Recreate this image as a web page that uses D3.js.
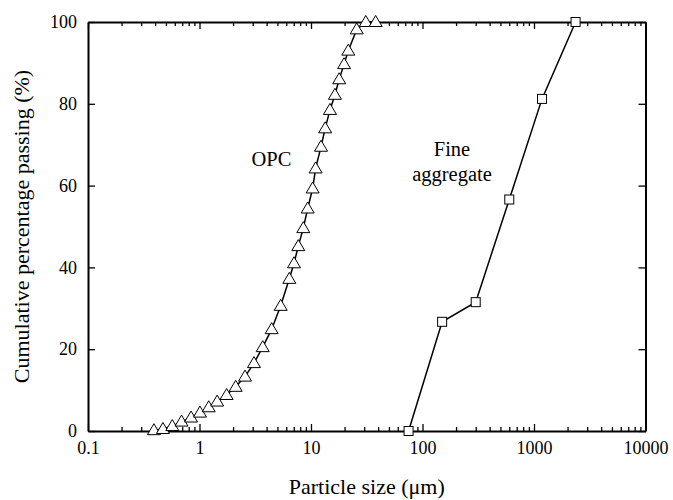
<!DOCTYPE html>
<html>
<head>
<meta charset="utf-8">
<script src="https://cdn.jsdelivr.net/npm/d3@7"></script>
<style>
    body { margin: 0; background: #fff; }
    svg text { font-family: "Liberation Serif", "Times New Roman", Times, "DejaVu Serif", "Noto Serif", serif; fill: #000; }
</style>
</head>
<body>
<div id="chart"></div>
<script>
// OPC particle size distribution (um, % passing)
const opcSize = [0.39, 0.47, 0.57, 0.69, 0.84, 1.01, 1.21, 1.44, 1.75, 2.11, 2.56, 3.08, 3.69, 4.44,
    5.35, 6.39, 7.04, 7.69, 8.53, 9.34, 10.35, 11.0, 12.3, 13.4, 14.8, 16.4, 17.9, 19.8, 21.6, 25.7, 31.0, 38.0];
const opcPassing = [0.2, 0.5, 1.2, 2.3, 3.3, 4.5, 5.8, 7.2, 8.8, 10.8, 13.3, 16.6, 20.5, 24.9,
    30.6, 37.2, 41.0, 45.2, 49.6, 54.4, 59.3, 64.2, 69.5, 74.0, 78.5, 82.2, 86.0, 89.7, 93.0, 98.2, 100, 100];

// fine aggregate sieve analysis
const aggSize = [75, 150, 300, 600, 1180, 2360];
const aggPassing = [0, 26.7, 31.5, 56.6, 81.2, 100];

const xTicks = [0.1, 1, 10, 100, 1000, 10000];
const xTickLabels = ['0.1', '1', '10', '100', '1000', '10000'];
const yTicks = [0, 20, 40, 60, 80, 100];

const width = 673;
const height = 500;
const margin = { top: 22, right: 27.5, bottom: 69, left: 88 };
const serif = '"Liberation Serif", "Times New Roman", Times, "DejaVu Serif", "Noto Serif", serif';

const svg = d3.select('#chart')
    .append('svg')
        .attr('width', width)
        .attr('height', height);

const x = d3.scaleLog()
    .domain([0.1, 10000])
    .range([margin.left, width - margin.right]);

const y = d3.scaleLinear()
    .domain([0, 100])
    .range([height - margin.bottom, margin.top]);

// minor ticks for the log axis: 2..9 in each decade
const minorTicks = [];
for (let d = 0.1; d < 10000; d *= 10) {
    for (let k = 2; k <= 9; k++) minorTicks.push(+(d * k).toPrecision(3));
}

const bottomY = height - margin.bottom;

// bottom axis
svg.append('g')
    .attr('transform', `translate(0,${bottomY})`)
    .call(d3.axisBottom(x).tickValues(minorTicks).tickSize(-4).tickFormat(''))
    .call(g => g.select('.domain').remove());

svg.append('g')
    .attr('class', 'x-axis')
    .attr('transform', `translate(0,${bottomY})`)
    .call(d3.axisBottom(x)
        .tickValues(xTicks)
        .tickSize(-7)
        .tickSizeOuter(0)
        .tickPadding(10)
        .tickFormat((d, i) => xTickLabels[i]));

// top axis (ticks only)
svg.append('g')
    .attr('transform', `translate(0,${margin.top})`)
    .call(d3.axisTop(x).tickValues(minorTicks).tickSize(-4).tickFormat(''))
    .call(g => g.select('.domain').remove());

svg.append('g')
    .attr('transform', `translate(0,${margin.top})`)
    .call(d3.axisTop(x).tickValues(xTicks).tickSize(-7).tickSizeOuter(0).tickFormat(''));

// left axis
svg.append('g')
    .attr('class', 'y-axis')
    .attr('transform', `translate(${margin.left},0)`)
    .call(d3.axisLeft(y)
        .tickValues(yTicks)
        .tickSize(-7)
        .tickSizeOuter(0)
        .tickPadding(11));

// right axis
svg.append('g')
    .attr('transform', `translate(${width - margin.right},0)`)
    .call(d3.axisRight(y).tickValues(yTicks).tickSize(-7).tickSizeOuter(0).tickFormat(''));

svg.selectAll('g')
    .attr('font-family', serif);
svg.selectAll('.domain, .tick line')
    .attr('stroke', '#000');
svg.selectAll('.domain')
    .attr('stroke-width', 2);
svg.selectAll('.tick line')
    .attr('stroke-width', 1.3);
svg.selectAll('.tick text')
    .attr('font-size', 18);

// series lines
const line = d3.line()
    .x(d => x(d[0]))
    .y(d => y(d[1]));

const opcData = opcSize.map((s, i) => [s, opcPassing[i]]);
const aggData = aggSize.map((s, i) => [s, aggPassing[i]]);

svg.append('path')
    .datum(opcData)
    .attr('d', line)
    .attr('fill', 'none')
    .attr('stroke', '#000')
    .attr('stroke-width', 1.5);

svg.append('path')
    .datum(aggData)
    .attr('d', line)
    .attr('fill', 'none')
    .attr('stroke', '#000')
    .attr('stroke-width', 1.5);

// triangle markers for OPC
const tri = 'M0,-6.5L6.5,4.5L-6.5,4.5Z';
svg.selectAll('.opc-marker')
    .data(opcData)
    .join('path')
        .attr('class', 'opc-marker')
        .attr('d', tri)
        .attr('transform', d => `translate(${x(d[0])},${y(d[1])})`)
        .attr('fill', '#fff')
        .attr('stroke', '#000')
        .attr('stroke-width', 1);

// square markers for fine aggregate
svg.selectAll('.agg-marker')
    .data(aggData)
    .join('rect')
        .attr('class', 'agg-marker')
        .attr('x', d => x(d[0]) - 4.5)
        .attr('y', d => y(d[1]) - 4.5)
        .attr('width', 9)
        .attr('height', 9)
        .attr('fill', '#fff')
        .attr('stroke', '#000')
        .attr('stroke-width', 1);

// series labels
const labels = svg.append('g')
    .attr('font-size', 20.5);

labels.append('text')
    .attr('x', 271.5)
    .attr('y', 166)
    .attr('text-anchor', 'middle')
    .text('OPC');

labels.append('text')
    .attr('x', 452)
    .attr('y', 156)
    .attr('text-anchor', 'middle')
    .text('Fine');

labels.append('text')
    .attr('x', 452)
    .attr('y', 181)
    .attr('text-anchor', 'middle')
    .text('aggregate');

// axis titles
const titles = svg.append('g')
    .attr('font-size', 22);

titles.append('text')
    .attr('x', (margin.left + width - margin.right) / 2)
    .attr('y', 494)
    .attr('text-anchor', 'middle')
    .text('Particle size (\u03bcm)');

titles.append('text')
    .attr('transform', `translate(29,${(53 + 400) / 2}) rotate(-90)`)
    .attr('text-anchor', 'middle')
    .text('Cumulative percentage passing (%)');
</script>
</body>
</html>
